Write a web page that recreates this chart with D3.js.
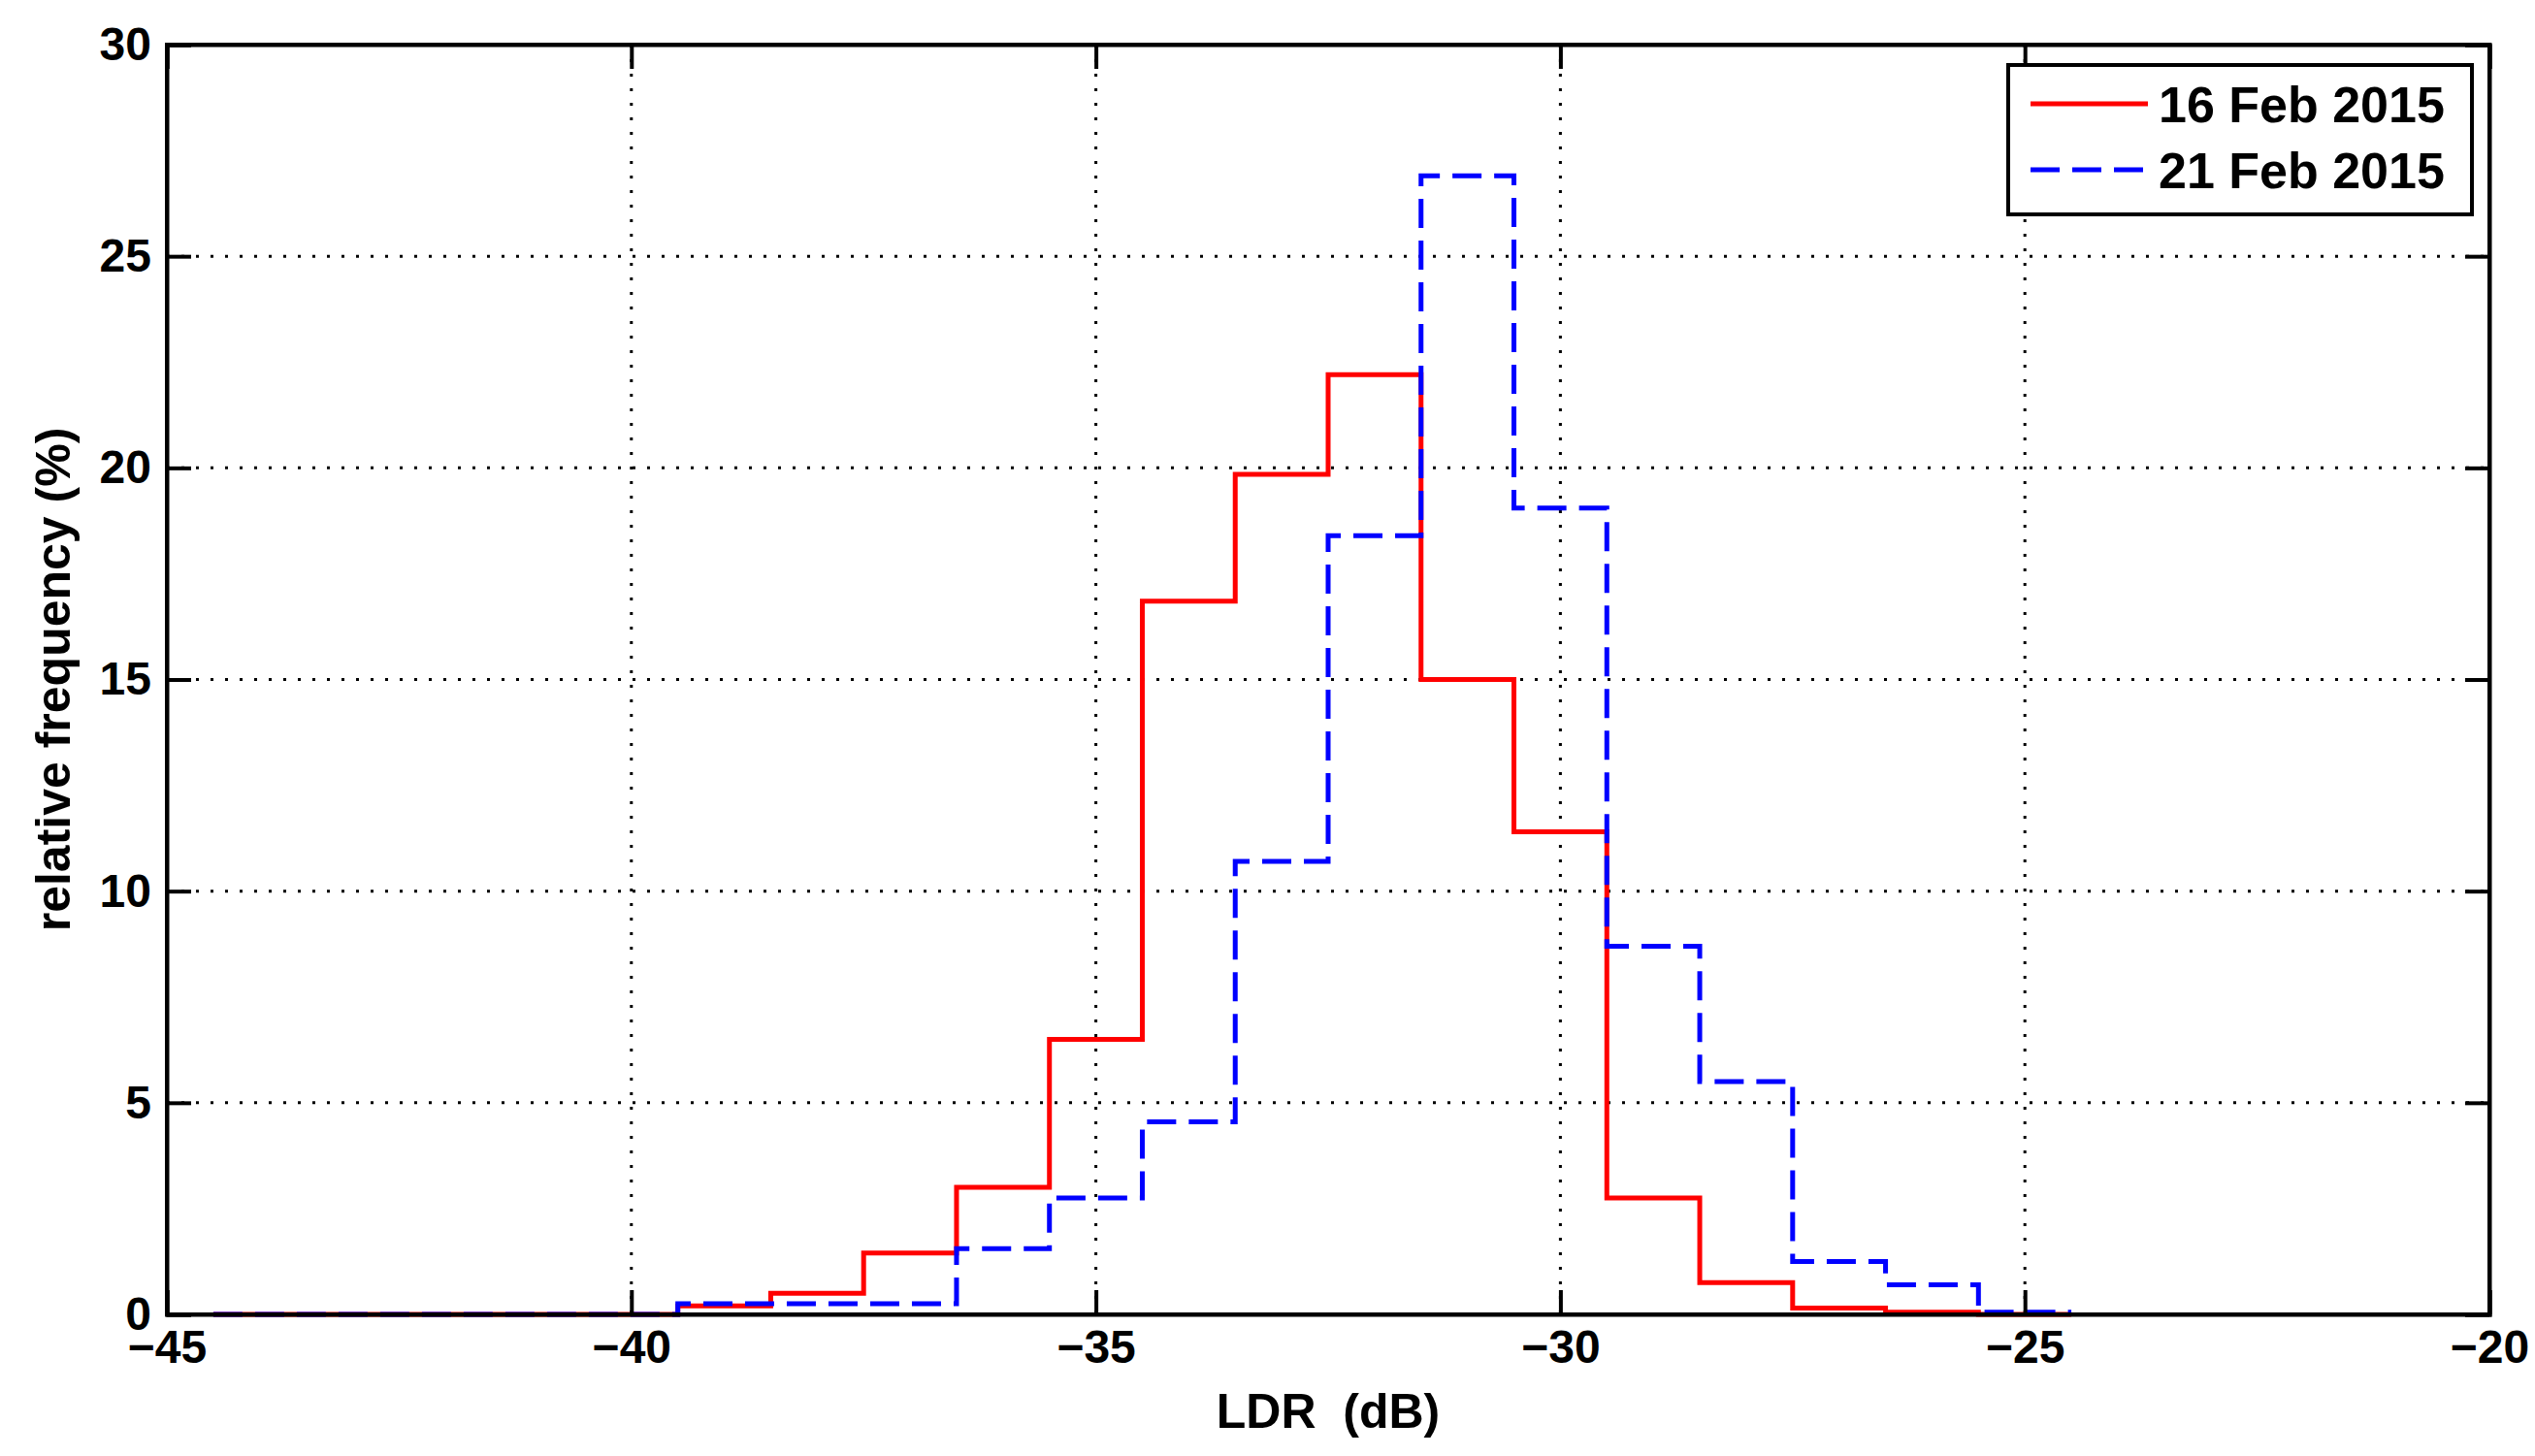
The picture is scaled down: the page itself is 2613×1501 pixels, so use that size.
<!DOCTYPE html>
<html><head><meta charset="utf-8">
<script src="https://cdn.jsdelivr.net/npm/d3@7"></script>
<style>
body{margin:0;background:#fff}
text{font-family:"Liberation Sans",Arial,sans-serif;font-weight:bold;fill:#000}
</style></head><body>
<svg id="chart" width="2613" height="1501"></svg>
<script>
// bin centres (dB), bins are 1 dB wide
const binCentres = [-44,-43,-42,-41,-40,-39,-38,-37,-36,-35,-34,-33,-32,-31,-30,-29,-28,-27,-26,-25]
const feb16 = [0,0,0,0,0,0.2,0.5,1.45,3.0,6.5,16.85,19.85,22.2,15.0,11.4,2.75,0.75,0.15,0.05,0]
const feb21 = [0,0,0,0,0,0.25,0.25,0.25,1.55,2.75,4.55,10.7,18.4,26.9,19.05,8.7,5.5,1.25,0.7,0.05]
const xTicks = [-45,-40,-35,-30,-25,-20]
const yTicks = [0,5,10,15,20,25,30]
const seriesNames = ['16 Feb 2015','21 Feb 2015']

const pLeft = 172, pRight = 2566, pTop = 46, pBottom = 1355
const svg = d3.select('#chart')
const x = d3.scaleLinear().domain([-45,-20]).range([pLeft,pRight])
const y = d3.scaleLinear().domain([0,30]).range([pBottom,pTop])

// dotted grid
const grid = svg.append('g').attr('stroke','#000').attr('stroke-width',3).attr('stroke-dasharray','3,12')
grid.selectAll('.gx').data(xTicks.slice(1,-1)).join('line')
  .attr('x1',d=>x(d)).attr('x2',d=>x(d)).attr('y1',pTop).attr('y2',pBottom)
grid.selectAll('.gy').data(yTicks.slice(1,-1)).join('line')
  .attr('y1',d=>y(d)).attr('y2',d=>y(d)).attr('x1',pLeft).attr('x2',pRight)

// step lines
const steps = vals => {
  const pts = binCentres.map((c,i)=>[c-0.5,vals[i]])
  pts.push([binCentres[binCentres.length-1]+0.5,vals[vals.length-1]])
  return pts
}
const line = d3.line().x(d=>x(d[0])).y(d=>y(d[1])).curve(d3.curveStepAfter)
svg.append('path').attr('d',line(steps(feb16))).attr('fill','none')
  .attr('stroke','#ff0000').attr('stroke-width',5)
svg.append('path').attr('d',line(steps(feb21))).attr('fill','none')
  .attr('stroke','#0000ff').attr('stroke-width',5).attr('stroke-dasharray','30,13')

// axes box with inward ticks
const fmt = d3.format('d')
svg.append('g').attr('transform',`translate(0,${pBottom})`)
  .call(d3.axisBottom(x).tickValues(xTicks).tickSize(-25).tickPadding(16).tickFormat(fmt))
svg.append('g').attr('transform',`translate(${pLeft},0)`)
  .call(d3.axisLeft(y).tickValues(yTicks).tickSize(-25).tickPadding(16).tickFormat(fmt))
svg.append('g').attr('transform',`translate(0,${pTop})`)
  .call(d3.axisTop(x).tickValues(xTicks).tickSize(-25).tickFormat(''))
svg.append('g').attr('transform',`translate(${pRight},0)`)
  .call(d3.axisRight(y).tickValues(yTicks).tickSize(-25).tickFormat(''))
svg.selectAll('.domain').attr('stroke','#000').attr('stroke-width',4)
svg.selectAll('.tick line').attr('stroke','#000').attr('stroke-width',4)
svg.selectAll('.tick text').style('font-size','48px').style('font-family','"Liberation Sans",Arial,sans-serif').style('font-weight','bold').attr('fill','#000')
svg.append('rect').attr('x',pLeft).attr('y',pTop).attr('width',pRight-pLeft).attr('height',pBottom-pTop)
  .attr('fill','none').attr('stroke','#000').attr('stroke-width',4)

// axis titles
svg.append('text').attr('x',(pLeft+pRight)/2).attr('y',1472).attr('text-anchor','middle')
  .style('font-size','50px').attr('xml:space','preserve').text('LDR  (dB)')
svg.append('text').attr('transform',`translate(72,${(pTop+pBottom)/2}) rotate(-90)`)
  .attr('text-anchor','middle').style('font-size','50px').text('relative frequency (%)')

// legend
const lg = svg.append('g')
lg.append('rect').attr('x',2070).attr('y',67).attr('width',478).attr('height',154)
  .attr('fill','#fff').attr('stroke','#000').attr('stroke-width',4)
const lstyle = [{c:'#ff0000',d:null},{c:'#0000ff',d:'30,13'}]
seriesNames.forEach((n,i)=>{
  const yy = 107 + i*68
  lg.append('line').attr('x1',2093).attr('x2',2214).attr('y1',yy).attr('y2',yy)
    .attr('stroke',lstyle[i].c).attr('stroke-width',5).attr('stroke-dasharray',lstyle[i].d)
  lg.append('text').attr('x',2225).attr('y',yy+19).style('font-size','52px').text(n)
})
</script>
</body></html>
